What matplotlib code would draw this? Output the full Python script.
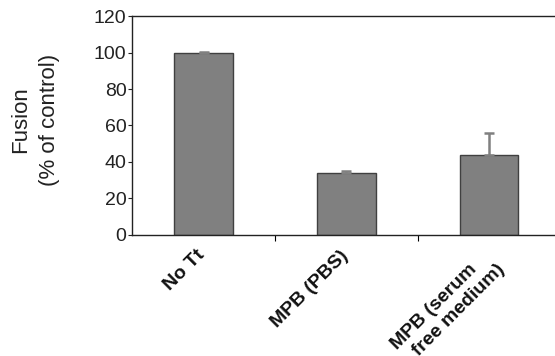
import matplotlib.pyplot as plt

plt.rcParams['font.family'] = ['Liberation Sans', 'DejaVu Sans']

conditions = ["No Tt", "MPB (PBS)", "MPB (serum\n  free medium)"]
fusion = [100, 34, 44]
fusion_err = [0.3, 1, 12]
y_ticks = [0, 20, 40, 60, 80, 100, 120]

fig = plt.figure(figsize=(5.55, 3.56), dpi=100)
ax = fig.add_axes([0.238, 0.340, 0.772, 0.615])

pos = list(range(len(conditions)))
ax.bar(pos, fusion, width=0.41, color='#808080', edgecolor='#404040', linewidth=1.0,
       yerr=[[0] * len(fusion), fusion_err],
       error_kw=dict(ecolor='#808080', elinewidth=1.8, capsize=3.5, capthick=1.8))

ax.set_xlim(-0.5, 2.5)
ax.set_ylim(0, 120)
ax.set_yticks(y_ticks)
ax.tick_params(axis='y', labelsize=14, length=3, width=0.8, pad=1, colors='#222222')

# category ticks sit between the bars, labels sit under the bars
ax.set_xticks([0.5, 1.5])
ax.set_xticklabels([])
ax.tick_params(axis='x', length=4, width=0.8, direction='out')
for x, lab in zip(pos, conditions):
    ax.text(x - 0.05, -6.5, lab, rotation=45, ha='right', va='top', rotation_mode='anchor',
            fontsize=14, fontweight='bold', multialignment='left', linespacing=1.25,
            transform=ax.transData, clip_on=False, color='#111111')

ax.spines['right'].set_visible(False)
for s in ['left', 'bottom', 'top']:
    ax.spines[s].set_linewidth(1.0)
    ax.spines[s].set_color('#222222')

ax.set_ylabel("Fusion\n(% of control)", fontsize=16, linespacing=1.5, color='#222222')
ax.yaxis.set_label_coords(-0.168, 0.525)

plt.savefig('out.png', dpi=100)
